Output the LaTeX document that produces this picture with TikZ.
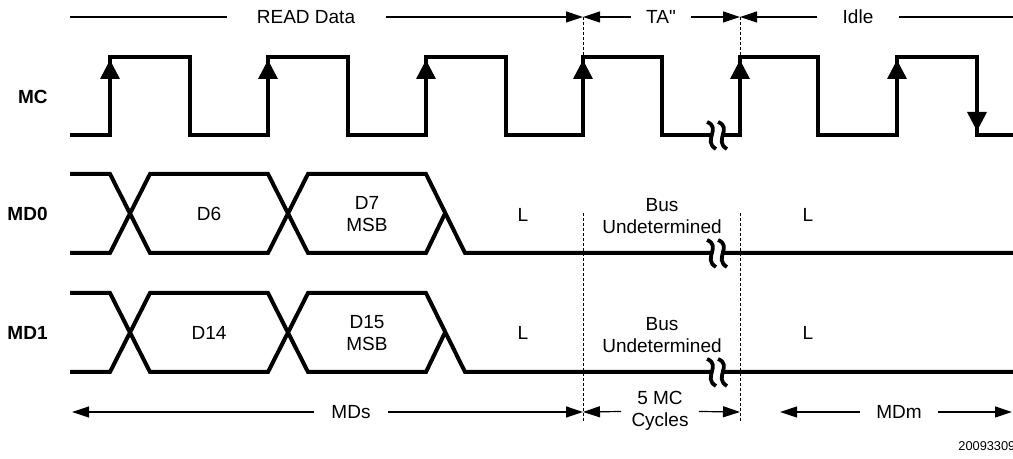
\documentclass[tikz,border=0pt]{standalone}
\usepackage{fontspec}
\setmainfont{Liberation Sans}[Ligatures=TeXOff]
\usetikzlibrary{arrows.meta}

\tikzset{
  wave/.style={line width=2pt, line join=miter},
  dimline/.style={line width=0.6pt},
  dimtip/.style={dimline, -{Triangle[length=8.5pt,width=5.5pt]}},
  guide/.style={line width=0.5pt, dash pattern=on 1.5pt off 1pt},
  signame/.style={font=\fontsize{9.5}{11}\selectfont\bfseries, anchor=east, inner sep=0pt},
  txt/.style={font=\fontsize{9.5}{11}\selectfont, align=center, inner ysep=0pt},
}

% cut in a line, drawn as two small S curves
\newcommand\wavebreak[2]{%
  \fill[white] (#1-4,#2-5) rectangle (#1+4,#2+5);
  \foreach \d in {0,11}
    \draw[line width=1.9pt] (#1-10+\d,#2-13) .. controls (#1+5+\d,#2-7) and (#1-15+\d,#2+6) .. (#1-1+\d,#2+14);
}

\begin{document}
\begin{tikzpicture}[x=0.5pt,y=-0.5pt]
  \useasboundingbox (0,0) rectangle (1013,459);

  % signal names
  \node[signame] (mc)  at (48,97)  {MC};
  \node[signame] (md0) at (48,214) {MD0};
  \node[signame] (md1) at (48,333) {MD1};

  % dotted guides
  \coordinate (ta1) at (583,17);
  \coordinate (ta2) at (740,17);
  \coordinate (ta1b) at (583,412);
  \coordinate (ta2b) at (740,412);
  \draw[guide] (ta1) -- (583,55);
  \draw[guide] (ta2) -- (740,55);
  \draw[guide] (583,213) -- (583,423);
  \draw[guide] (740,213) -- (740,423);

  % clock
  \draw[wave] (70,135) -- (110,135) -- (110,57) -- (190,57) -- (190,135)
    -- (268,135) -- (268,57) -- (348,57) -- (348,135)
    -- (426,135) -- (426,57) -- (506,57) -- (506,135)
    -- (583,135) -- (583,57) -- (662,57) -- (662,135)
    -- (740,135) -- (740,57) -- (818,57) -- (818,135)
    -- (897,135) -- (897,57) -- (977,57) -- (977,135) -- (1013,135);
  \foreach \x in {110,268,426,583,740,897}
    \fill (\x,60) -- ++(-10,19) -- ++(20,0) -- cycle;
  \fill (977,131) -- ++(-10,-19) -- ++(20,0) -- cycle;
  \wavebreak{717}{135}

  % data lines
  \foreach \t/\b in {174/253, 293/372} {
    \draw[wave] (70,\t) -- (110,\t) -- (150,\b) -- (268,\b) -- (308,\t)
      -- (426,\t) -- (465,\b) -- (1013,\b);
    \draw[wave] (70,\b) -- (110,\b) -- (150,\t) -- (268,\t) -- (308,\b)
      -- (426,\b) -- (445,{(\t+\b)/2});
    \wavebreak{717}{\b}
  }

  % bus contents
  \node[txt] (d6)   at (209,214) {D6};
  \node[txt] (d7)   at (367,214) {D7\\MSB};
  \node[txt] (l0a)  at (523,215) {L};
  \node[txt] (bus0) at (662,216) {Bus\\Undetermined};
  \node[txt] (l0b)  at (808,215) {L};
  \node[txt] (d14)  at (209,333) {D14};
  \node[txt] (d15)  at (367,333) {D15\\MSB};
  \node[txt] (l1a)  at (523,333) {L};
  \node[txt] (bus1) at (662,335) {Bus\\Undetermined};
  \node[txt] (l1b)  at (808,333) {L};

  % phases on top
  \coordinate (rs) at (70,17);
  \coordinate (re) at (1013,17);
  \node[txt, inner xsep=15pt]   (read) at (306,17) {READ Data};
  \node[txt, inner xsep=7.5pt]  (ta)   at (661,17) {TA"};
  \node[txt, inner xsep=12.5pt] (idle) at (858,17) {Idle};
  \draw[dimline] (rs) -- (read);
  \draw[dimline] (idle) -- (re);
  \path[dimtip]
    (read) edge (ta1)
    (ta) edge (ta1)
    (ta) edge (ta2)
    (idle) edge (ta2);

  % spans at the bottom
  \coordinate (ms) at (72,412);
  \coordinate (mm1) at (780,412);
  \coordinate (mm2) at (1012,412);
  \node[txt, inner xsep=8.5pt] (mds) at (351,412) {MDs};
  \node[txt, inner xsep=5pt]   (cyc) at (660,411) {5 MC\\Cycles};
  \node[txt, inner xsep=8pt]   (mdm) at (899,412) {MDm};
  \path[dimtip]
    (mds) edge (ms)
    (mds) edge (ta1b)
    (cyc) edge (ta1b)
    (cyc) edge (ta2b)
    (mdm) edge (mm1)
    (mdm) edge (mm2);

  \node[font=\fontsize{6.4}{7}\selectfont, anchor=west, inner sep=0pt] (fig) at (958,446) {20093309};
\end{tikzpicture}
\end{document}
